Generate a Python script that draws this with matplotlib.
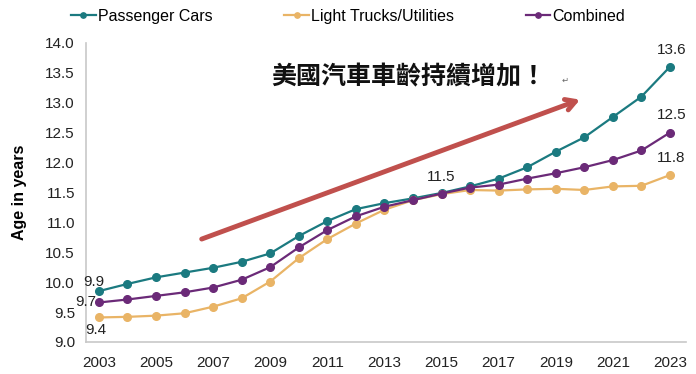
import numpy as np
import matplotlib
matplotlib.use("Agg")
from matplotlib import pyplot as plt

plt.rcParams['font.family'] = ['Liberation Sans', 'DejaVu Sans']

# Average age of US light vehicles
years = list(range(2003, 2024))
cars = [9.85, 9.97, 10.08, 10.16, 10.24, 10.34, 10.48, 10.77, 11.02, 11.22, 11.32,
        11.40, 11.49, 11.60, 11.73, 11.92, 12.18, 12.42, 12.76, 13.10, 13.60]
trucks = [9.41, 9.42, 9.44, 9.48, 9.59, 9.73, 10.01, 10.40, 10.72, 10.98, 11.21,
          11.37, 11.47, 11.54, 11.53, 11.55, 11.56, 11.54, 11.60, 11.61, 11.79]
combined = [9.66, 9.71, 9.77, 9.83, 9.91, 10.04, 10.25, 10.58, 10.87, 11.10, 11.26,
            11.37, 11.48, 11.58, 11.63, 11.73, 11.82, 11.92, 12.04, 12.20, 12.50]
xticks = list(range(2003, 2024, 2))
yticks = np.arange(9.0, 14.01, 0.5)

teal = '#1b7a80'
orange = '#e9b466'
purple = '#6b2a78'

fig = plt.figure(figsize=(6.96, 3.74), dpi=100)
ax = fig.add_axes([0.1236, 0.0856, 0.862, 0.8])

ax.plot(years, cars, color=teal, marker='o', markersize=5.5, lw=1.6, label='Passenger Cars')
ax.plot(years, trucks, color=orange, marker='o', markersize=5.5, lw=1.6, label='Light Trucks/Utilities')
ax.plot(years, combined, color=purple, marker='o', markersize=5.5, lw=1.6, label='Combined')

ax.set_xlim(2002.55, 2023.56)
ax.set_ylim(9.0, 14.0)
ax.set_xticks(xticks)
ax.set_yticks(yticks)
ax.set_yticklabels(['%.1f' % v for v in yticks])
ax.tick_params(length=0, labelsize=11, colors='#222222', pad=8)
ax.tick_params(axis='x', pad=10)
for s in ['top', 'right']:
    ax.spines[s].set_visible(False)
for s in ['left', 'bottom']:
    ax.spines[s].set_color('#c8c8c8')
    ax.spines[s].set_linewidth(1.2)
ax.set_ylabel('Age in years', fontsize=11.5, fontweight='bold', labelpad=13)

# data labels
lab = dict(textcoords='offset points', fontsize=11, color='#222222')
ax.annotate('9.9', (years[0], cars[0]), xytext=(-4, 6.5), ha='center', va='center', **lab)
ax.annotate('9.7', (years[0], combined[0]), xytext=(-2, 0), ha='right', va='center', **lab)
ax.annotate('9.4', (years[0], trucks[0]), xytext=(-2, -9), ha='center', va='center', **lab)
ax.annotate('11.5', (years[12], combined[12]), xytext=(0, 12), ha='center', va='center', **lab)
ax.annotate('13.6', (years[-1], cars[-1]), xytext=(1, 12), ha='center', va='center', **lab)
ax.annotate('12.5', (years[-1], combined[-1]), xytext=(1, 12.5), ha='center', va='center', **lab)
ax.annotate('11.8', (years[-1], trucks[-1]), xytext=(1, 12.5), ha='center', va='center', **lab)

# trend arrow and caption
ax.annotate('', xy=(2019.85, 13.05), xytext=(2006.6, 10.72),
            arrowprops=dict(arrowstyle='->,head_length=0.7,head_width=0.4',
                            color='#c0504d', lw=3.5, shrinkA=0, shrinkB=0))
ax.text(2009.03, 13.43, '美國汽車車齡持續增加！', fontsize=18, fontweight='bold',
        family=['Noto Sans CJK TC', 'DejaVu Sans'], color='#111111', va='center')
ax.text(2019.2, 13.36, '↵', fontsize=6, color='#666666', va='center')

fig.legend(loc='upper left', bbox_to_anchor=(0.102, 0.977), ncol=3, frameon=False,
           fontsize=11.5, handlelength=1.55, handletextpad=0.12, columnspacing=4.5,
           borderpad=0, borderaxespad=0, markerscale=0.7)

fig.savefig('out.png', dpi=100)
